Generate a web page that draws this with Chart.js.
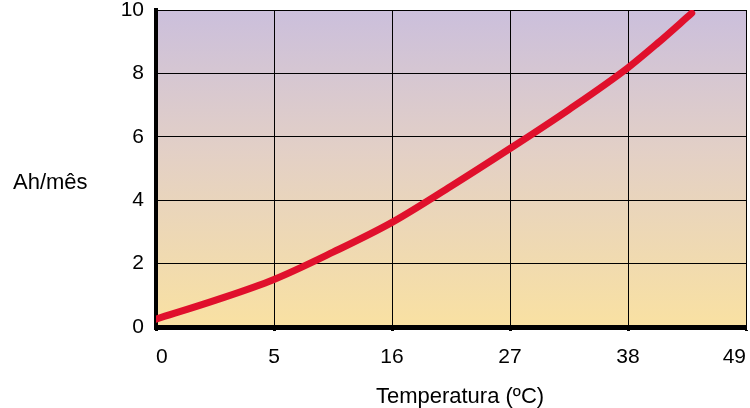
<!DOCTYPE html>
<html>
<head>
<meta charset="utf-8">
<script src="https://cdn.jsdelivr.net/npm/chart.js@4/dist/chart.umd.min.js"></script>
<style>
  html, body { margin: 0; padding: 0; background: #ffffff; }
  #wrap { width: 750px; height: 408px; }
</style>
</head>
<body>
<div id="wrap"><canvas id="c" width="750" height="408"></canvas></div>
<script>
// Tick labels for the (evenly spaced) temperature axis
const xTickLabels = ['0', '5', '16', '27', '38', '49'];
// Curve samples: position along the temperature axis (tick index units) and Ah/mês
const curveX = [0, 0.5, 1, 1.5, 2, 2.5, 3, 3.5, 4, 4.25, 4.54];
const curveY = [0.25, 0.84, 1.50, 2.36, 3.30, 4.44, 5.63, 6.86, 8.18, 8.95, 9.9];
const yTicks = [0, 2, 4, 6, 8, 10];
const yAxisTitle = 'Ah/mês';
const xAxisTitle = 'Temperatura (ºC)';

const FONT = 'Liberation Sans, Arial, Helvetica, sans-serif';

const bgPlugin = {
  id: 'bg',
  beforeDraw(chart) {
    const { ctx, chartArea: a } = chart;
    const g = ctx.createLinearGradient(0, a.top, 0, a.bottom);
    g.addColorStop(0, '#cbbfdc');
    g.addColorStop(0.45, '#e3d0c6');
    g.addColorStop(1, '#f9e1a2');
    ctx.save();
    ctx.fillStyle = g;
    ctx.fillRect(a.left, a.top, a.right - a.left, a.bottom - a.top);
    ctx.restore();
  }
};

const titlesPlugin = {
  id: 'titles',
  afterDraw(chart) {
    const { ctx } = chart;
    ctx.save();
    ctx.fillStyle = '#000';
    ctx.font = '22px ' + FONT;
    ctx.textBaseline = 'alphabetic';
    ctx.textAlign = 'left';
    ctx.fillText(yAxisTitle, 13, 189);
    ctx.textAlign = 'center';
    ctx.fillText(xAxisTitle, 460, 403);
    ctx.restore();
  }
};

new Chart(document.getElementById('c'), {
  type: 'line',
  data: {
    datasets: [{
      data: curveX.map((x, i) => ({ x: x, y: curveY[i] })),
      borderColor: '#e0102c',
      borderWidth: 7,
      borderCapStyle: 'round',
      borderJoinStyle: 'round',
      pointRadius: 0,
      fill: false,
      cubicInterpolationMode: 'monotone'
    }]
  },
  options: {
    responsive: false,
    animation: false,
    devicePixelRatio: 1,
    layout: { padding: { top: 10, right: 4, left: 0, bottom: 0 } },
    plugins: { legend: { display: false }, tooltip: { enabled: false } },
    scales: {
      x: {
        type: 'linear',
        min: 0,
        max: 5,
        afterFit(s) { s.height = 81; s.paddingLeft = 0; s.paddingRight = 0; },
        afterBuildTicks(s) { s.ticks = xTickLabels.map((_, i) => ({ value: i })); },
        ticks: {
          color: '#000',
          font: { family: FONT, size: 21 },
          padding: 14,
          maxRotation: 0,
          align: 'inner',
          callback: (v) => xTickLabels[v]
        },
        grid: { color: '#000', lineWidth: 1, tickLength: 4, tickWidth: 3, tickColor: '#000' },
        border: { color: '#000', width: 5 }
      },
      y: {
        min: 0,
        max: 10,
        afterFit(s) { s.width = 156; s.paddingTop = 0; s.paddingBottom = 0; },
        afterBuildTicks(s) { s.ticks = yTicks.map(v => ({ value: v })); },
        ticks: {
          color: '#000',
          font: { family: FONT, size: 21 },
          padding: 12
        },
        grid: { color: '#000', lineWidth: 1, drawTicks: false },
        border: { color: '#000', width: 4 }
      }
    }
  },
  plugins: [bgPlugin, titlesPlugin]
});
</script>
</body>
</html>
